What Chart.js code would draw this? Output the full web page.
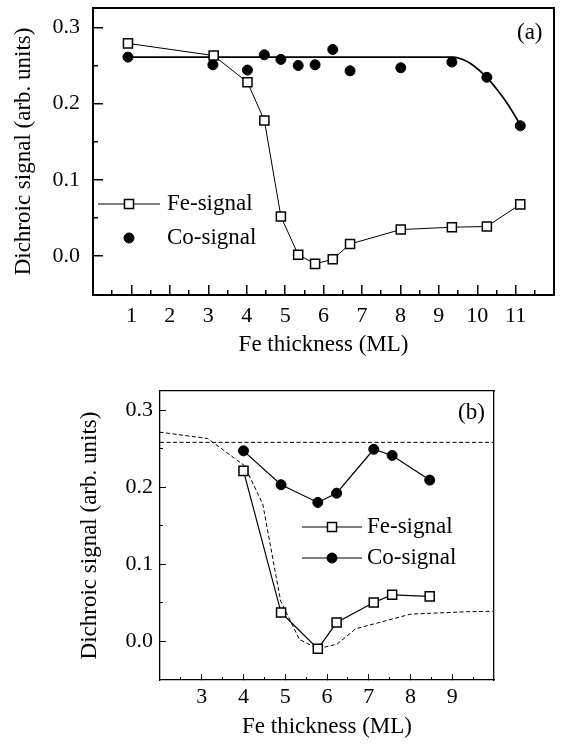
<!DOCTYPE html>
<html><head><meta charset="utf-8">
<script src="https://cdn.jsdelivr.net/npm/chart.js@4.4.1/dist/chart.umd.min.js"></script>
<style>
html,body{margin:0;padding:0;background:#fff;}
#wrap{position:relative;width:562px;height:745px;overflow:hidden;}
canvas{position:absolute;left:0;}
#ca{top:0;}
#cb{top:370px;}
</style></head><body>
<div id="wrap"><canvas id="ca" width="562" height="370"></canvas><canvas id="cb" width="562" height="375"></canvas></div>
<script>
// ---- Panel (a) data ----
const aFeX = [0.91, 3.14, 4.02, 4.46, 4.89, 5.34, 5.78, 6.24, 6.69, 8.01, 9.34, 10.25, 11.12];
const aFeY = [0.279, 0.263, 0.228, 0.178, 0.052, 0.002, -0.010, -0.004, 0.016, 0.035, 0.038, 0.039, 0.068];
const aCoX = [0.91, 3.12, 4.02, 4.46, 4.89, 5.34, 5.78, 6.24, 6.69, 8.01, 9.34, 10.25, 11.12];
const aCoY = [0.261, 0.251, 0.244, 0.264, 0.258, 0.250, 0.251, 0.271, 0.243, 0.247, 0.2545, 0.2345, 0.171];
const aFitX = [0.91, 9.38, 9.64, 9.90, 10.24, 10.54, 10.80, 11.14];
const aFitY = [0.261, 0.261, 0.2576, 0.250, 0.2348, 0.217, 0.199, 0.1706];
// ---- Panel (b) data ----
const bFeX = [4.0, 4.9, 5.78, 6.23, 7.12, 7.56, 8.46];
const bFeY = [0.221, 0.037, -0.010, 0.024, 0.050, 0.060, 0.058];
const bCoX = [4.0, 4.9, 5.78, 6.23, 7.12, 7.56, 8.46];
const bCoY = [0.247, 0.203, 0.180, 0.192, 0.249, 0.241, 0.209];
const bRefX = [2, 10];
const bRefY = [0.258, 0.258];
// ---- Ticks ----
const aXTicks = [1, 2, 3, 4, 5, 6, 7, 8, 9, 10, 11];
const aXLabels = ['1', '2', '3', '4', '5', '6', '7', '8', '9', '10', '11'];
const aXMinor = [0.5, 1.5, 2.5, 3.5, 4.5, 5.5, 6.5, 7.5, 8.5, 9.5, 10.5, 11.5];
const bXTicks = [3, 4, 5, 6, 7, 8, 9];
const bXLabels = ['3', '4', '5', '6', '7', '8', '9'];
const bXMinor = [2.5, 3.5, 4.5, 5.5, 6.5, 7.5, 8.5, 9.5];
const yTicks = [0, 0.1, 0.2, 0.3];
const yLabels = ['0.0', '0.1', '0.2', '0.3'];
const yMinor = [0.05, 0.15, 0.25];
const xTitle = 'Fe thickness (ML)';
const yTitle = 'Dichroic signal (arb. units)';

const FONT = "'Liberation Serif', 'Times New Roman', serif";

function pts(xs, ys) { return xs.map((x, i) => ({x: x, y: ys[i]})); }
function fixTicks(vals) { return s => { s.ticks = vals.map(v => ({value: v})); }; }
function fixSize(w, h) {
  return s => {
    if (w !== null) s.width = w;
    if (h !== null) s.height = h;
    s.paddingTop = 0; s.paddingBottom = 0; s.paddingLeft = 0; s.paddingRight = 0;
  };
}
function majorAxis(horiz, pos, min, max, vals, labels, o) {
  return {
    type: 'linear', position: pos, min: min, max: max, weight: 1,
    afterBuildTicks: fixTicks(vals),
    afterFit: horiz ? fixSize(null, o.size) : fixSize(o.size, null),
    grid: {display: true, drawOnChartArea: false, drawTicks: true, tickLength: -o.tick,
           tickWidth: o.tickWidth, lineWidth: o.tickWidth, color: '#000', tickColor: '#000'},
    border: {display: true, color: '#000', width: o.border},
    ticks: {autoSkip: false, maxRotation: 0, minRotation: 0, padding: o.pad, color: '#000',
            font: {family: FONT, size: 22}, callback: (v, i) => labels[i]},
    title: {display: true, text: o.title, color: '#000', font: {family: FONT, size: 23}, padding: o.titlePad}
  };
}
function minorAxis(horiz, pos, min, max, vals, o) {
  return {
    type: 'linear', position: pos, min: min, max: max, weight: 0,
    afterBuildTicks: fixTicks(vals),
    afterFit: horiz ? fixSize(null, 0) : fixSize(0, null),
    grid: {display: true, drawOnChartArea: false, drawTicks: true, tickLength: -o.tick,
           tickWidth: o.tickWidth, lineWidth: o.tickWidth, color: '#000', tickColor: '#000'},
    border: {display: false},
    ticks: {display: false},
    title: {display: false}
  };
}
function frameAxis(horiz, pos, min, max, o) {
  return {
    type: 'linear', position: pos, min: min, max: max,
    afterFit: horiz ? fixSize(null, 0) : fixSize(0, null),
    grid: {display: true, drawOnChartArea: false, drawTicks: false, color: '#000'},
    border: {display: true, color: '#000', width: o.border},
    ticks: {display: false},
    title: {display: false}
  };
}
function drawMarker(ctx, ds, x, y) {
  const r = ds.pointRadius;
  ctx.beginPath();
  if (ds.pointStyle === 'rect') { const s = r * Math.SQRT1_2; ctx.rect(x - s, y - s, 2 * s, 2 * s); }
  else ctx.arc(x, y, r, 0, Math.PI * 2);
  ctx.fillStyle = ds.pointBackgroundColor; ctx.fill();
  ctx.lineWidth = ds.pointBorderWidth; ctx.strokeStyle = ds.pointBorderColor; ctx.stroke();
}
const annot = {
  id: 'annot',
  afterDatasetsDraw(chart, args, opts) {
    const ctx = chart.ctx;
    ctx.save();
    ctx.font = '23px ' + FONT;
    ctx.textBaseline = 'middle'; ctx.textAlign = 'left';
    ctx.fillStyle = '#000';
    ctx.fillText(opts.tag.text, opts.tag.x, opts.tag.y);
    opts.items.forEach(it => {
      const ds = chart.data.datasets[it.index];
      if (it.line) {
        ctx.beginPath(); ctx.moveTo(opts.x1, it.y); ctx.lineTo(opts.x2, it.y);
        ctx.lineWidth = ds.borderWidth; ctx.strokeStyle = ds.borderColor; ctx.setLineDash([]); ctx.stroke();
      }
      drawMarker(ctx, ds, (opts.x1 + opts.x2) / 2, it.y);
      ctx.fillStyle = '#000';
      ctx.fillText(ds.label, opts.textX, it.y);
    });
    ctx.restore();
  }
};

const feStyle = {borderColor: '#000', pointStyle: 'rect', pointRadius: 6.4, pointHoverRadius: 6.4,
  pointBackgroundColor: '#fff', pointBorderColor: '#000', pointBorderWidth: 1.5, tension: 0, showLine: true, fill: false};
const coStyle = {borderColor: '#000', pointStyle: 'circle', pointRadius: 5, pointHoverRadius: 5,
  pointBackgroundColor: '#000', pointBorderColor: '#000', pointBorderWidth: 1, tension: 0, fill: false};

// ---- Chart (a) ----
const oa = {tick: 10, tickWidth: 1.5, border: 2};
new Chart(document.getElementById('ca'), {
  type: 'line',
  data: {datasets: [
    Object.assign({label: 'Fe-signal', data: pts(aFeX, aFeY), borderWidth: 1}, feStyle),
    Object.assign({label: 'Co-signal', data: pts(aCoX, aCoY), borderWidth: 1, showLine: false}, coStyle),
    {label: 'Co fit', data: pts(aFitX, aFitY), borderColor: '#000', borderWidth: 1.7, pointRadius: 0,
     pointHoverRadius: 0, cubicInterpolationMode: 'monotone', fill: false}
  ]},
  options: {
    responsive: false, animation: false, events: [],
    layout: {padding: {left: 0, top: 6, right: 4, bottom: 0}},
    scales: {
      x: majorAxis(true, 'bottom', 0, 12, aXTicks, aXLabels, Object.assign({size: 75, pad: 18, title: xTitle, titlePad: {top: 0, bottom: 11}}, oa)),
      xm: minorAxis(true, 'bottom', 0, 12, aXMinor, {tick: 5, tickWidth: 1.5}),
      xt: frameAxis(true, 'top', 0, 12, oa),
      y: majorAxis(false, 'left', -0.0508, 0.3255, yTicks, yLabels, Object.assign({size: 93, pad: 23, title: yTitle, titlePad: {top: 10, bottom: 0}}, oa)),
      ym: minorAxis(false, 'left', -0.0508, 0.3255, yMinor, {tick: 5, tickWidth: 1.5}),
      yr: frameAxis(false, 'right', -0.0508, 0.3255, oa)
    },
    plugins: {
      legend: {display: false}, tooltip: {enabled: false},
      annot: {tag: {text: '(a)', x: 517, y: 33}, x1: 98, x2: 160, textX: 167,
              items: [{index: 0, y: 204, line: true}, {index: 1, y: 238, line: false}]}
    }
  },
  plugins: [annot]
});

// ---- Chart (b) ----
const ob = {tick: 6, tickWidth: 1, border: 1.3};
new Chart(document.getElementById('cb'), {
  type: 'line',
  data: {datasets: [
    Object.assign({label: 'Fe-signal', data: pts(bFeX, bFeY), borderWidth: 1.2}, feStyle),
    Object.assign({label: 'Co-signal', data: pts(bCoX, bCoY), borderWidth: 1.2, showLine: true}, coStyle),
    {label: 'Fe (a)', data: pts(aFeX, aFeY), borderColor: '#000', borderWidth: 1, borderDash: [4, 2.5],
     pointRadius: 0, pointHoverRadius: 0, tension: 0, fill: false},
    {label: 'Co level (a)', data: pts(bRefX, bRefY), borderColor: '#000', borderWidth: 1, borderDash: [4, 2.5],
     pointRadius: 0, pointHoverRadius: 0, tension: 0, fill: false}
  ]},
  options: {
    responsive: false, animation: false, events: [],
    layout: {padding: {left: 0, top: 21, right: 68, bottom: 0}},
    scales: {
      x: majorAxis(true, 'bottom', 2, 10, bXTicks, bXLabels, Object.assign({size: 65, pad: 10, title: xTitle, titlePad: {top: 0, bottom: 4}}, ob)),
      xm: minorAxis(true, 'bottom', 2, 10, bXMinor, {tick: 3, tickWidth: 1}),
      xt: frameAxis(true, 'top', 2, 10, ob),
      y: majorAxis(false, 'left', -0.0506, 0.3247, yTicks, yLabels, Object.assign({size: 160, pad: 13, title: yTitle, titlePad: {top: 76, bottom: 0}}, ob)),
      ym: minorAxis(false, 'left', -0.0506, 0.3247, yMinor, {tick: 3, tickWidth: 1}),
      yr: frameAxis(false, 'right', -0.0506, 0.3247, ob)
    },
    plugins: {
      legend: {display: false}, tooltip: {enabled: false},
      annot: {tag: {text: '(b)', x: 458, y: 43}, x1: 302, x2: 362, textX: 367,
              items: [{index: 0, y: 157, line: true}, {index: 1, y: 188, line: true}]}
    }
  },
  plugins: [annot]
});
</script>
</body></html>
